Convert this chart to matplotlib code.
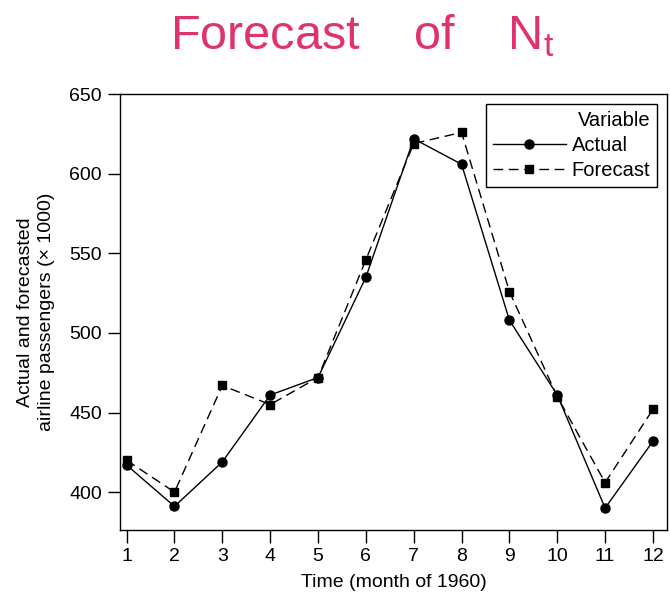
import numpy as np
import matplotlib
matplotlib.use("Agg")
import matplotlib.pyplot as plt

plt.rcParams['font.family'] = ['Liberation Sans', 'DejaVu Sans']

# monthly airline passengers for 1960 (thousands)
months = [1, 2, 3, 4, 5, 6, 7, 8, 9, 10, 11, 12]
actual = [417, 391, 419, 461, 472, 535, 622, 606, 508, 461, 390, 432]
forecast = [420, 400, 467, 455, 472, 546, 619, 626, 526, 460, 406, 452]
yticks = [400, 450, 500, 550, 600, 650]

fig = plt.figure(figsize=(6.7, 6.04), dpi=100)
ax = fig.add_axes([0.179, 0.122, 0.817, 0.722])

ax.plot(months, actual, color='black', linewidth=1.0, marker='o',
        markersize=6.5, label='Actual')
ax.plot(months, forecast, color='black', linewidth=1.0, linestyle=(0, (7, 4)),
        marker='s', markersize=5.5, label='Forecast')

ax.set_xlim(0.86, 12.3)
ax.set_ylim(376, 650)
ax.set_xticks(months)
ax.set_yticks(yticks)
ax.tick_params(direction='out', length=9, width=1.0, labelsize=14, pad=4)
for s in ax.spines.values():
    s.set_linewidth(1.0)

ax.set_xlabel('Time (month of 1960)', fontsize=14, labelpad=6)
ax.set_ylabel('Actual and forecasted\nairline passengers (\u00d7 1000)', fontsize=14,
              labelpad=10, linespacing=1.3)

leg = ax.legend(title='Variable', loc='upper right', fontsize=14.5, title_fontsize=14.5,
                frameon=True, fancybox=False, edgecolor='black', framealpha=1,
                handlelength=3.6, handletextpad=0.3, borderaxespad=0.5,
                labelspacing=0.3, borderpad=0.35, alignment='right')
leg.get_frame().set_linewidth(1.0)

# handwritten note above the plot
fig.text(0.54, 0.94, 'Forecast    of    $\\mathregular{N_t}$', color='#e0336e',
         fontsize=35, ha='center', va='center', fontweight='light')

fig.savefig('out.png', dpi=100)
